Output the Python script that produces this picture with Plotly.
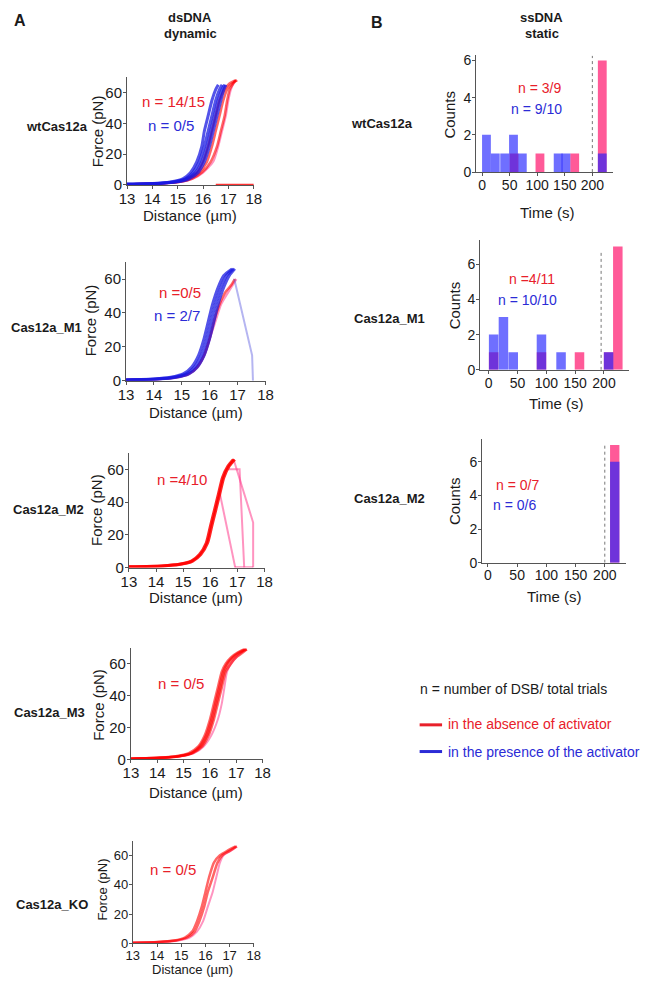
import plotly.graph_objects as go

W, H = 651, 985
FONT = "Liberation Sans, Arial, Helvetica, sans-serif"

# ---------------- Panel A : force-distance curves ----------------
# each curve = distances (µm) read at the listed force levels (pN)
WT_F_BLUE = [0.5, 1, 2, 4, 8, 15, 25, 35, 45, 55, 62, 65]
WT_BLUE_1 = [13.0, 14.0, 14.7, 15.2, 15.5, 15.75, 15.95, 16.05, 16.2, 16.35, 16.5, 16.6]
WT_BLUE_2 = [13.0, 14.1, 14.8, 15.3, 15.6, 15.85, 16.05, 16.2, 16.35, 16.5, 16.65, 16.75]
WT_BLUE_3 = [13.0, 14.2, 14.9, 15.35, 15.7, 15.95, 16.15, 16.3, 16.45, 16.6, 16.75, 16.85]
WT_BLUE_4 = [13.0, 14.3, 15.0, 15.45, 15.8, 16.05, 16.25, 16.4, 16.55, 16.7, 16.82, 16.9]
WT_F_RED = [0.5, 1, 2, 4, 8, 15, 25, 35, 45, 55, 62, 66, 68]
WT_RED_1 = [13.0, 14.2, 14.9, 15.35, 15.75, 16.0, 16.2, 16.35, 16.5, 16.65, 16.85, 17.05, 17.3]
WT_RED_2 = [13.0, 14.3, 15.0, 15.45, 15.85, 16.15, 16.35, 16.5, 16.65, 16.8, 16.95, 17.15, 17.35]
WT_RED_3 = [13.0, 14.3, 15.1, 15.55, 15.95, 16.3, 16.55, 16.7, 16.85, 16.95, 17.05, 17.2, 17.3]
WT_RED_4 = [13.0, 14.4, 15.1, 15.6, 16.0, 16.4, 16.6, 16.75, 16.9, 17.0, 17.1, 17.2, 17.25]
WT_CUT_D = [16.5, 18.0]
WT_CUT_F = [0.2, 0.2]

M1_F_BLUE = [0.5, 1, 2, 4, 8, 15, 25, 35, 45, 55, 62, 66]
M1_BLUE_1 = [13.0, 14.0, 14.6, 15.05, 15.35, 15.6, 15.8, 15.95, 16.1, 16.3, 16.5, 16.8]
M1_BLUE_2 = [13.0, 14.1, 14.7, 15.15, 15.45, 15.7, 15.9, 16.05, 16.2, 16.4, 16.6, 16.85]
M1_BLUE_3 = [13.0, 14.2, 14.8, 15.25, 15.55, 15.8, 16.0, 16.15, 16.3, 16.5, 16.7, 16.9]
M1_F_RED = [0.5, 1, 2, 4, 8, 15, 25, 35, 45, 52, 56, 60]
M1_RED_1 = [13.0, 14.2, 14.8, 15.25, 15.55, 15.8, 16.0, 16.15, 16.35, 16.55, 16.75, 16.9]
M1_RED_2 = [13.0, 14.2, 14.8, 15.25, 15.55, 15.8, 16.0, 16.2, 16.4, 16.65, 16.8, 16.95]
M1_BREAK_D = [16.88, 17.52, 17.55]
M1_BREAK_F = [60, 15, 0]

M2_F_RED = [0.5, 1, 2, 4, 8, 15, 25, 35, 45, 55, 62, 66]
M2_RED_1 = [13.0, 14.2, 14.85, 15.3, 15.6, 15.85, 16.0, 16.15, 16.3, 16.45, 16.65, 16.85]
M2_RED_2 = [13.0, 14.25, 14.9, 15.35, 15.65, 15.9, 16.05, 16.2, 16.35, 16.5, 16.7, 16.9]
M2_BREAK1_D = [16.33, 16.92]
M2_BREAK1_F = [47, 0]
M2_BREAK2_D = [16.68, 17.08, 17.25]
M2_BREAK2_F = [60, 60, 0]
M2_BREAK3_D = [16.86, 17.58, 17.58]
M2_BREAK3_F = [66, 27.5, 0]
M2_BASE_D = [16.9, 17.58]
M2_BASE_F = [0.3, 0.3]

M3_F_RED = [0.5, 1, 2, 4, 8, 15, 25, 35, 45, 55, 60, 64, 67, 69]
M3_RED_1 = [13.0, 14.0, 14.7, 15.2, 15.55, 15.8, 16.0, 16.15, 16.3, 16.45, 16.6, 16.8, 17.05, 17.3]
M3_RED_2 = [13.0, 14.1, 14.8, 15.3, 15.65, 15.9, 16.1, 16.25, 16.4, 16.55, 16.7, 16.9, 17.15, 17.4]
M3_RED_3 = [13.0, 14.2, 14.9, 15.4, 15.75, 16.05, 16.3, 16.45, 16.55, 16.65, 16.8, 17.0, 17.2, 17.35]
M3_RED_4 = [13.0, 14.1, 14.8, 15.3, 15.6, 15.85, 16.05, 16.2, 16.35, 16.5, 16.65, 16.85, 17.1, 17.35]
M3_RED_5 = [13.0, 14.15, 14.85, 15.35, 15.7, 15.95, 16.15, 16.3, 16.45, 16.6, 16.8, 17.0, 17.25, 17.4]

KO_F_RED = [0.5, 1, 2, 4, 8, 15, 25, 35, 45, 55, 60, 63, 66]
KO_RED_1 = [13.0, 14.0, 14.7, 15.15, 15.45, 15.65, 15.85, 16.0, 16.15, 16.35, 16.6, 16.9, 17.25]
KO_RED_2 = [13.0, 14.1, 14.8, 15.25, 15.55, 15.75, 15.95, 16.1, 16.3, 16.5, 16.7, 17.0, 17.3]
KO_RED_3 = [13.0, 14.2, 14.9, 15.35, 15.65, 15.9, 16.1, 16.3, 16.45, 16.6, 16.75, 17.05, 17.3]

DIST_TICKS = [13, 14, 15, 16, 17, 18]
FORCE_TICKS = [0, 20, 40, 60]

# ---------------- Panel B : histograms (time to cleavage) ----------------
WT_T_BLUE = [8, 24, 41, 57, 73, 138, 152, 218]
WT_N_BLUE = [2, 1, 1, 2, 1, 1, 1, 1]
WT_T_RED = [58, 105, 168, 218]
WT_N_RED = [1, 1, 1, 6]

M1_T_BLUE = [8.5, 25.5, 42.5, 91.5, 125.5, 208]
M1_N_BLUE = [2, 3, 1, 2, 1, 1]
M1_T_RED = [8.5, 91.5, 157.5, 208, 224]
M1_N_RED = [1, 1, 1, 1, 7]

M2_T_BLUE = [217]
M2_N_BLUE = [6]
M2_T_RED = [217]
M2_N_RED = [7]

TIME_TICKS = [0, 50, 100, 150, 200]
COUNT_TICKS = [0, 2, 4, 6]

ROWS_A = ["wtCas12a", "Cas12a_M1", "Cas12a_M2", "Cas12a_M3", "Cas12a_KO"]
ROWS_B = ["wtCas12a", "Cas12a_M1", "Cas12a_M2"]

# ---------------- styling ----------------
RED = "rgba(255,0,0,0.6)"
PINK = "rgba(255,60,140,0.55)"
BLUE = "rgba(25,25,225,0.75)"
LBLUE = "rgba(90,90,225,0.45)"
BAR_PINK = "#ff5a98"
BAR_BLUE = "rgba(30,30,255,0.64)"


def px_x(l, r):
    return [l / W, r / W]


def px_y(t, b):
    return [1 - b / H, 1 - t / H]


fig = go.Figure()


def curve(ax, d, f, color, width):
    fig.add_trace(go.Scatter(x=d, y=f, mode="lines", xaxis="x" + ax, yaxis="y" + ax,
                             line=dict(color=color, width=width, shape="spline", smoothing=0.6),
                             hoverinfo="skip"))


def seg(ax, d, f, color, width):
    fig.add_trace(go.Scatter(x=d, y=f, mode="lines", xaxis="x" + ax, yaxis="y" + ax,
                             line=dict(color=color, width=width), hoverinfo="skip"))


# subplot 1 : wt
curve("", WT_RED_4, WT_F_RED, PINK, 2)
curve("", WT_RED_3, WT_F_RED, RED, 2.5)
curve("", WT_RED_2, WT_F_RED, RED, 2.5)
curve("", WT_RED_1, WT_F_RED, RED, 2.5)
seg("", WT_CUT_D, WT_CUT_F, "rgba(255,0,0,0.8)", 2)
curve("", WT_BLUE_4, WT_F_BLUE, BLUE, 3)
curve("", WT_BLUE_3, WT_F_BLUE, BLUE, 3)
curve("", WT_BLUE_2, WT_F_BLUE, BLUE, 3)
curve("", WT_BLUE_1, WT_F_BLUE, BLUE, 3)

# subplot 2 : M1
curve("2", M1_RED_2, M1_F_RED, PINK, 2.5)
curve("2", M1_RED_1, M1_F_RED, RED, 2.5)
seg("2", M1_BREAK_D, M1_BREAK_F, LBLUE, 2)
curve("2", M1_BLUE_3, M1_F_BLUE, BLUE, 3)
curve("2", M1_BLUE_2, M1_F_BLUE, BLUE, 3)
curve("2", M1_BLUE_1, M1_F_BLUE, BLUE, 3)

# subplot 3 : M2
seg("3", M2_BREAK1_D, M2_BREAK1_F, PINK, 2)
seg("3", M2_BREAK2_D, M2_BREAK2_F, PINK, 2)
seg("3", M2_BREAK3_D, M2_BREAK3_F, PINK, 2)
seg("3", M2_BASE_D, M2_BASE_F, PINK, 2)
curve("3", M2_RED_2, M2_F_RED, "rgba(255,0,0,0.85)", 3)
curve("3", M2_RED_1, M2_F_RED, "rgba(255,0,0,0.85)", 3)

# subplot 4 : M3
curve("4", M3_RED_3, M3_F_RED, PINK, 2)
curve("4", M3_RED_5, M3_F_RED, RED, 2.5)
curve("4", M3_RED_4, M3_F_RED, RED, 2.5)
curve("4", M3_RED_2, M3_F_RED, RED, 2.5)
curve("4", M3_RED_1, M3_F_RED, RED, 2.5)

# subplot 5 : KO
curve("5", KO_RED_3, KO_F_RED, PINK, 2)
curve("5", KO_RED_2, KO_F_RED, RED, 2.5)
curve("5", KO_RED_1, KO_F_RED, RED, 2.5)


def bars(ax, t, n, color, width):
    fig.add_trace(go.Bar(x=t, y=n, width=width, xaxis="x" + ax, yaxis="y" + ax,
                         marker=dict(color=color, line=dict(width=0)), hoverinfo="skip"))


bars("6", WT_T_RED, WT_N_RED, BAR_PINK, 16)
bars("6", WT_T_BLUE, WT_N_BLUE, BAR_BLUE, 16)
bars("7", M1_T_RED, M1_N_RED, BAR_PINK, 16.5)
bars("7", M1_T_BLUE, M1_N_BLUE, BAR_BLUE, 16.5)
bars("8", M2_T_RED, M2_N_RED, BAR_PINK, 16)
bars("8", M2_T_BLUE, M2_N_BLUE, BAR_BLUE, 16)

AXC = "#555555"
TXT = "#1a1a1a"


def axis(dom, rng, ticks, fs, standoff):
    return dict(domain=dom, range=rng, tickvals=ticks, showline=True, linecolor=AXC, linewidth=1,
                ticks="outside", ticklen=3, tickcolor=AXC, tickfont=dict(size=fs, color=TXT),
                ticklabelstandoff=standoff,
                showgrid=False, zeroline=False, fixedrange=True)


# (x-domain px, y-domain px, x-range, y-range, fontsize)
A_GEOM = [
    ((122, 252), (75, 184), [13, 18], [0, 70], 15),
    ((121, 264), (262, 382), [13, 18], [0, 70], 15),
    ((124, 263), (455, 571), [13, 18], [0, 70], 15),
    ((126, 261), (652, 765), [13, 18], [0, 70], 15),
    ((128, 252), (847, 951), [13, 18], [0, 70], 13),
]
B_GEOM = [
    ((480, 620), (53, 171), [-10.6, 237], [0, 6.27], 14),
    ((484, 637), (240, 371), [-15, 244], [0, 7.35], 14),
    ((486, 634), (441, 566), [-10, 237], [0, 7.35], 14),
]

lay = {}
for i, (gx, gy, xr, yr, fs) in enumerate(A_GEOM + B_GEOM, start=1):
    k = "" if i == 1 else str(i)
    xt = DIST_TICKS if i <= 5 else TIME_TICKS
    yt = FORCE_TICKS if i <= 5 else COUNT_TICKS
    xa = axis(px_x(*gx), xr, xt, fs, -3)
    xa["anchor"] = "y" + k
    ya = axis(px_y(*gy), yr, yt, fs, -2)
    ya["anchor"] = "x" + k
    lay["xaxis" + k] = xa
    lay["yaxis" + k] = ya

ann = []


def text(x, y, s, size, color=TXT, bold=False, angle=0, xanchor="center"):
    ann.append(dict(x=x / W, y=1 - y / H, xref="paper", yref="paper", text=("<b>%s</b>" % s) if bold else s,
                    showarrow=False, font=dict(size=size, color=color, family=FONT),
                    textangle=angle, xanchor=xanchor, yanchor="middle"))


# headers
text(4, 18, "A", 16, bold=True, xanchor="left")
text(187, 15, "dsDNA", 13, bold=True)
text(187, 31, "dynamic", 13, bold=True)
text(370, 20, "B", 16, bold=True, xanchor="left")
text(547, 15, "ssDNA", 13, bold=True)
text(547, 31, "static", 13, bold=True)

# row labels
text(16, 125, ROWS_A[0], 13, bold=True, xanchor="left")
text(1, 328, ROWS_A[1], 13, bold=True, xanchor="left")
text(3, 512, ROWS_A[2], 13, bold=True, xanchor="left")
text(4, 718, ROWS_A[3], 13, bold=True, xanchor="left")
text(6, 912, ROWS_A[4], 13, bold=True, xanchor="left")
text(350, 122, ROWS_B[0], 13, bold=True, xanchor="left")
text(353, 319, ROWS_B[1], 13, bold=True, xanchor="left")
text(353, 501, ROWS_B[2], 13, bold=True, xanchor="left")

# axis titles panel A
for fx, fy, dx, dy, fs in [(92, 130, 187, 215, 15), (85, 321, 193, 414, 15), (91, 513, 193, 601, 15),
                           (92, 710, 193, 798, 15), (97, 897, 189, 977, 13)]:
    text(fx, fy, "Force (pN)", fs, angle=-90)
    text(dx, dy, "Distance (µm)", fs)

# axis titles panel B
for cx, cy, tx, ty in [(453, 113, 553, 212), (458, 306, 562, 405), (458, 504, 560, 600)]:
    text(cx, cy, "Counts", 15, angle=-90)
    text(tx, ty, "Time (s)", 15)

# n = annotations
RED_T = "#e8202a"
BLUE_T = "#2b2bd6"
text(170, 100, "n = 14/15", 15, RED_T)
text(167, 124, "n = 0/5", 15, BLUE_T)
text(176, 293, "n =0/5", 15, RED_T)
text(173, 316, "n = 2/7", 15, BLUE_T)
text(178, 482, "n =4/10", 15, RED_T)
text(177, 688, "n = 0/5", 15, RED_T)
text(169, 876, "n = 0/5", 15, RED_T)
text(545, 86, "n = 3/9", 14, RED_T)
text(542, 107, "n = 9/10", 14, BLUE_T)
text(537, 279, "n =4/11", 14, RED_T)
text(533, 300, "n = 10/10", 14, BLUE_T)
text(522, 487, "n = 0/7", 14, RED_T)
text(519, 508, "n = 0/6", 14, BLUE_T)

# legend
text(420, 694, "n = number of DSB/ total trials", 14, TXT, xanchor="left")
text(449, 729, "in the absence of activator", 14, "#e8202a", xanchor="left")
text(449, 757, "in the presence of the activator", 14, "#2b2bd6", xanchor="left")

shapes = [
    dict(type="line", xref="paper", yref="paper", x0=422 / W, x1=445 / W, y0=1 - 730 / H, y1=1 - 730 / H,
         line=dict(color="#e8202a", width=3)),
    dict(type="line", xref="paper", yref="paper", x0=422 / W, x1=445 / W, y0=1 - 757 / H, y1=1 - 757 / H,
         line=dict(color="#2b2bd6", width=3)),
    dict(type="line", xref="x6", yref="y6", x0=200, x1=200, y0=0, y1=6.25,
         line=dict(color="#777777", width=1, dash="dot")),
    dict(type="line", xref="x7", yref="y7", x0=195, x1=195, y0=0, y1=6.7,
         line=dict(color="#777777", width=1, dash="dot")),
    dict(type="line", xref="x8", yref="y8", x0=200, x1=200, y0=0, y1=7.0,
         line=dict(color="#777777", width=1, dash="dot")),
]

fig.update_layout(
    width=W, height=H, margin=dict(l=0, r=0, t=0, b=0),
    paper_bgcolor="white", plot_bgcolor="white",
    font=dict(family=FONT, color=TXT),
    showlegend=False, barmode="overlay",
    annotations=ann, shapes=shapes,
    **lay,
)

fig.write_html("out.html", config={"displayModeBar": False, "staticPlot": True},
               post_script="document.body.style.margin='0';document.body.style.overflow='hidden';")
